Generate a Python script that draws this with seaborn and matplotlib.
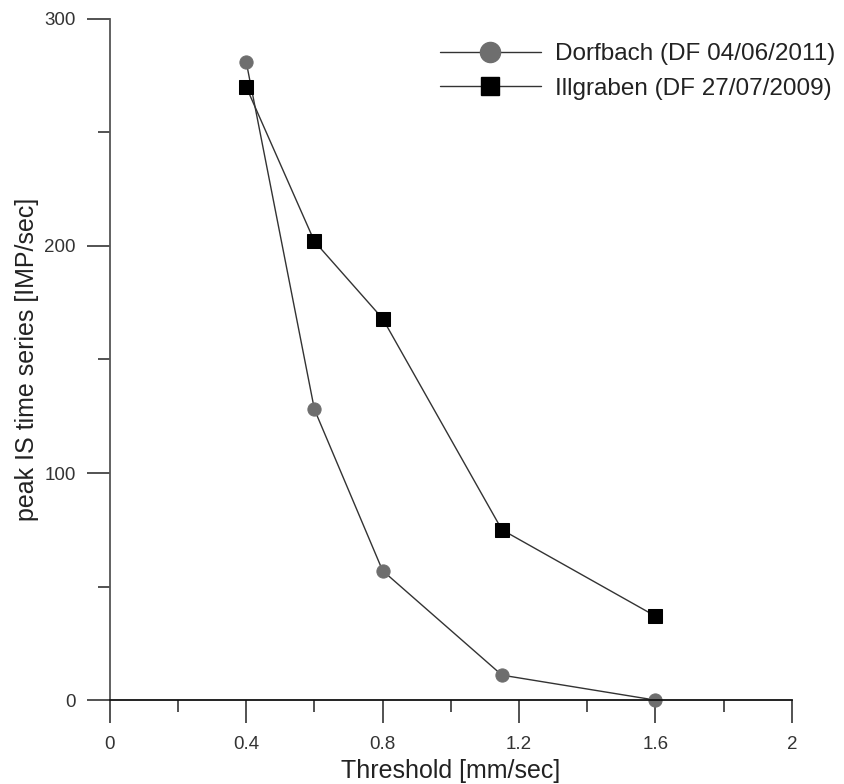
import matplotlib
matplotlib.use("Agg")
import matplotlib.pyplot as plt
import numpy as np
import pandas as pd
import seaborn as sns
from matplotlib.lines import Line2D
from matplotlib.ticker import MultipleLocator, FormatStrFormatter

# values
thresholds = [0.4, 0.6, 0.8, 1.15, 1.6]
dorfbach = [281, 128, 57, 11, 0]
illgraben = [270, 202, 168, 75, 37]
names = ["Dorfbach (DF 04/06/2011)", "Illgraben (DF 27/07/2009)"]

df = pd.DataFrame({
    "Threshold": thresholds * 2,
    "peak": dorfbach + illgraben,
    "event": [names[0]] * len(thresholds) + [names[1]] * len(thresholds),
})

sns.set_style("ticks")
plt.rcParams['font.family'] = ['Liberation Sans', 'DejaVu Sans']

fig = plt.figure(figsize=(8.45, 7.84), dpi=100)
ax = fig.add_axes([0.130, 0.107, 0.807, 0.869])

sns.lineplot(data=df, x="Threshold", y="peak", hue="event", style="event",
             markers={names[0]: "o", names[1]: "s"}, dashes=False,
             palette={names[0]: "#333333", names[1]: "#333333"},
             linewidth=1, markersize=9.5, ax=ax, legend=False)

# marker colours
lines = ax.get_lines()
lines[0].set_markerfacecolor("#6e6e6e")
lines[0].set_markeredgecolor("#6e6e6e")
lines[1].set_markerfacecolor("black")
lines[1].set_markeredgecolor("black")
for ln in lines:
    ln.set_clip_on(False)

ax.set_xlim(0, 2)
ax.set_ylim(0, 300)
ax.xaxis.set_major_locator(MultipleLocator(0.4))
ax.xaxis.set_minor_locator(MultipleLocator(0.2))
ax.yaxis.set_major_locator(MultipleLocator(100))
ax.yaxis.set_minor_locator(MultipleLocator(50))
ax.xaxis.set_major_formatter(FormatStrFormatter("%g"))

sns.despine(ax=ax)
ax.spines["left"].set_color("#555555")
ax.spines["bottom"].set_color("#111111")
for s in ["left", "bottom"]:
    ax.spines[s].set_linewidth(1.3)
ax.tick_params(which="major", length=16.5, width=1.3, color="#444444",
               labelsize=13.5, labelcolor="#333333")
ax.tick_params(which="minor", length=8.5, width=1.3, color="#444444")
ax.tick_params(axis="x", which="major", pad=9.5)
ax.tick_params(axis="y", which="major", pad=8)

ax.set_xlabel("Threshold [mm/sec]", fontsize=18, color="#222222", labelpad=4)
ax.set_ylabel("peak IS time series [IMP/sec]", fontsize=18, color="#222222", labelpad=4)

handles = [
    Line2D([], [], color="#333333", lw=1, marker="o", markersize=14.5,
           markerfacecolor="#6e6e6e", markeredgecolor="#6e6e6e"),
    Line2D([], [], color="#333333", lw=1, marker="s", markersize=13.5,
           markerfacecolor="black", markeredgecolor="black"),
]
fig.legend(handles, names, loc="upper left",
           bbox_to_anchor=(440 / 845, 1 - 43 / 784),
           frameon=False, handlelength=4.15, fontsize=17.5, handletextpad=0.6,
           labelspacing=0.52, borderpad=0, borderaxespad=0,
           labelcolor="#222222")

plt.savefig("out.png", dpi=100)
